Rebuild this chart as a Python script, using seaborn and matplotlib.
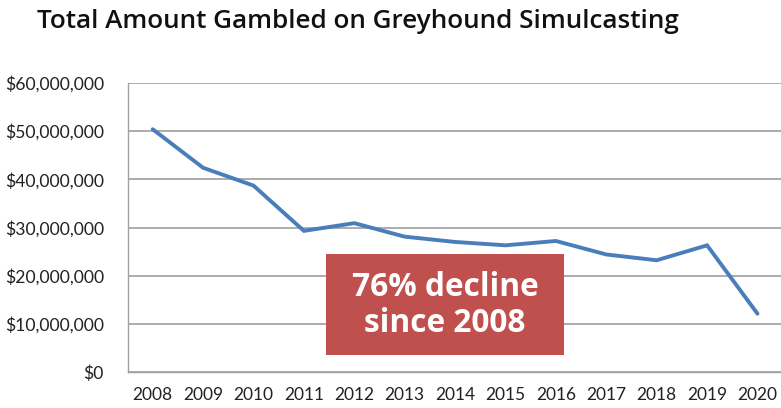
import matplotlib
matplotlib.use("Agg")
import matplotlib.pyplot as plt
import matplotlib.ticker as mticker
import seaborn as sns
import pandas as pd
import numpy as np

years = ["2008", "2009", "2010", "2011", "2012", "2013", "2014",
         "2015", "2016", "2017", "2018", "2019", "2020"]
amounts = [50.4e6, 42.4e6, 38.7e6, 29.3e6, 30.9e6, 28.1e6, 27.0e6,
           26.3e6, 27.2e6, 24.4e6, 23.2e6, 26.3e6, 12.1e6]
yticks = [0, 10e6, 20e6, 30e6, 40e6, 50e6, 60e6]
title = "Total Amount Gambled on Greyhound Simulcasting"
callout = "76% decline\nsince 2008"

sns.set_style("white")
plt.rcParams["font.family"] = ["Lato", "DejaVu Sans"]

df = pd.DataFrame({"idx": np.arange(len(years)), "amount": amounts})

fig = plt.figure(figsize=(7.81, 4.08), dpi=100)
ax = fig.add_axes([127.5 / 781, 1 - 372 / 408, (13 * 50.4) / 781, (372 - 83) / 408])

sns.lineplot(data=df, x="idx", y="amount", ax=ax, color="#4A7EBB",
             linewidth=2.8, solid_joinstyle="miter", zorder=3)

ax.set_xlim(-0.5, len(years) - 0.5)
ax.set_ylim(0, 60e6)
ax.set_yticks(yticks)
ax.yaxis.set_major_formatter(mticker.FuncFormatter(lambda v, p: f"${v:,.0f}"))
ax.set_xticks(np.arange(len(years)))
ax.set_xticklabels(years)
ax.set_xticks(np.arange(len(years) + 1) - 0.5, minor=True)
ax.tick_params(axis="x", which="major", length=0, pad=11, labelsize=12.5, colors="#222222")
ax.tick_params(axis="x", which="minor", length=6, width=1, color="#A0A0A0", direction="out")
ax.tick_params(axis="y", which="major", length=5, width=1, color="#A0A0A0", pad=12,
               labelsize=12.6)
for lab in ax.get_yticklabels():
    lab.set_color("#222222")
ax.yaxis.grid(True, color="#A6A6A6", linewidth=1.3)
ax.set_axisbelow(True)
for s in ["top", "right"]:
    ax.spines[s].set_visible(False)
for s in ["left", "bottom"]:
    ax.spines[s].set_color("#A0A0A0")
    ax.spines[s].set_linewidth(1.0)
ax.set_xlabel("")
ax.set_ylabel("")

fig.text(37 / 781, 1 - 22 / 408, title, fontsize=18.8, fontweight="semibold",
         family=["Open Sans", "DejaVu Sans"], color="#111111", va="center", ha="left")

# callout box
fig.patches.append(plt.Rectangle((326 / 781, 1 - 355 / 408), (564 - 326) / 781, (355 - 254) / 408,
                                 transform=fig.transFigure, facecolor="#C0504D",
                                 edgecolor="none", zorder=5))
fig.text(445 / 781, 1 - 306 / 408, callout, fontsize=22.8, fontweight="bold",
         family=["Open Sans", "DejaVu Sans"], color="white", ha="center", va="center",
         linespacing=1.12, zorder=6)

fig.savefig("out.png", dpi=100)
